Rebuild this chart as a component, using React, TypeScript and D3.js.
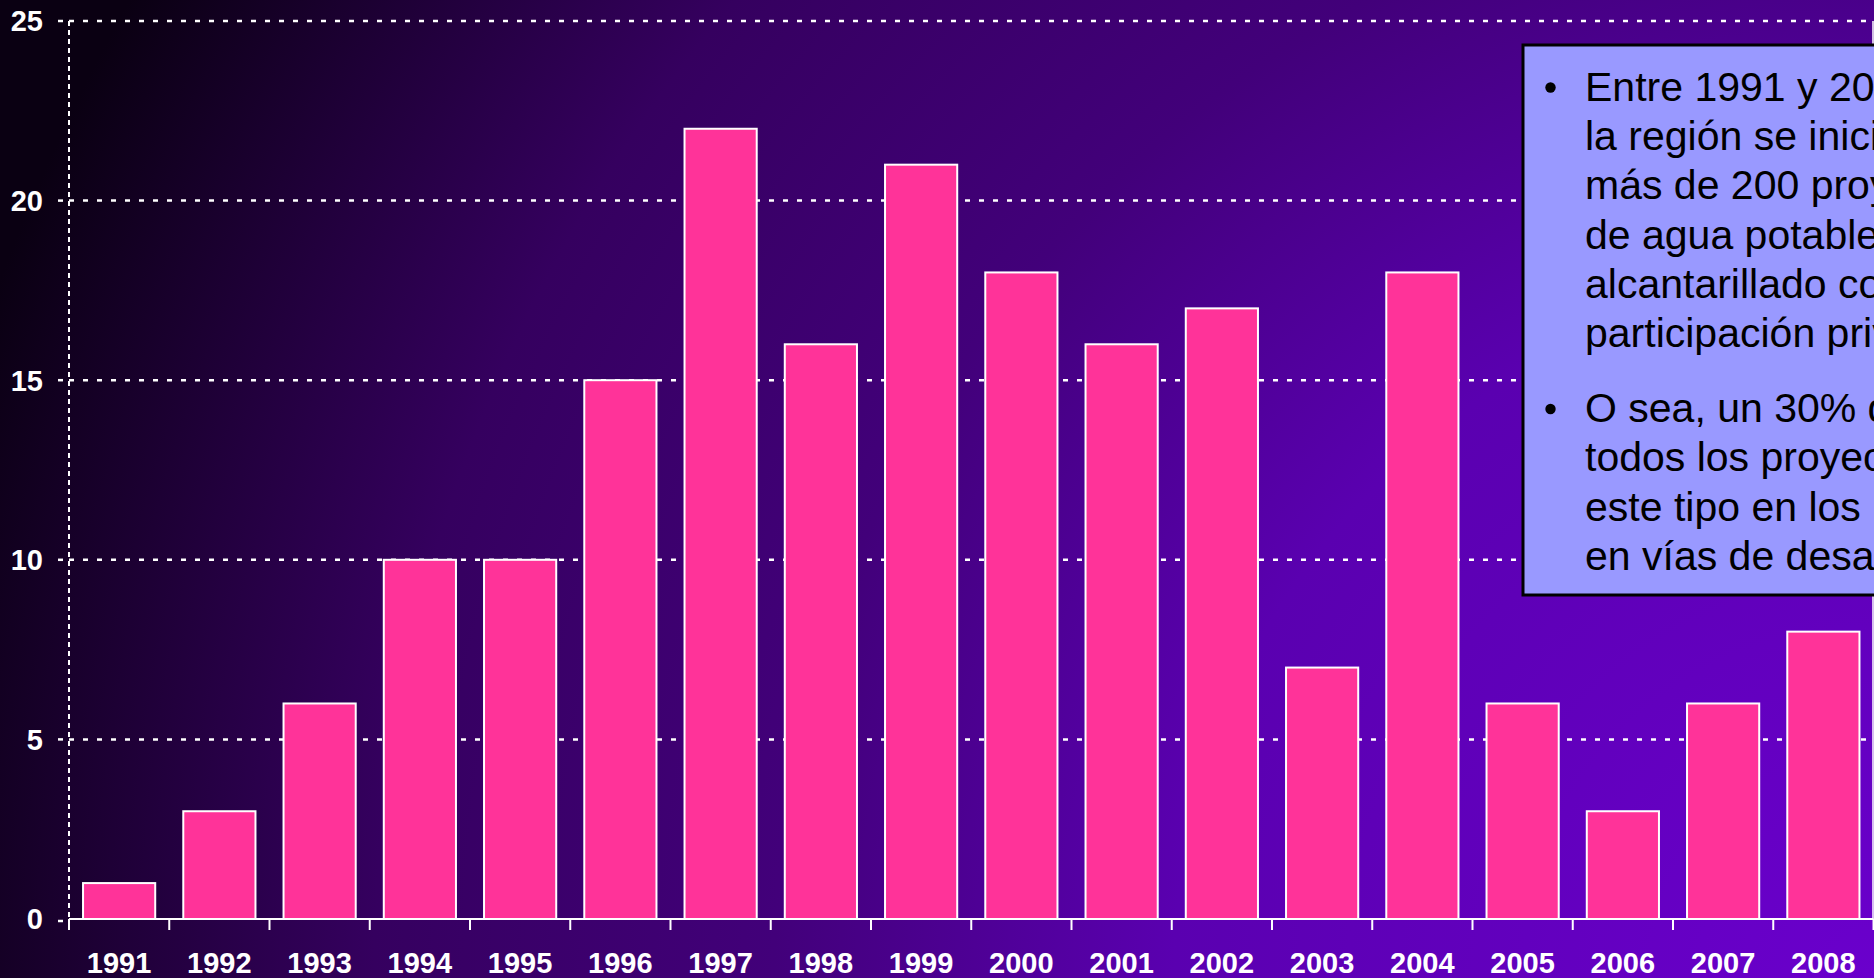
import React from "react";
import * as d3 from "d3";

const years = ["1991","1992","1993","1994","1995","1996","1997","1998","1999","2000","2001","2002","2003","2004","2005","2006","2007","2008"];
const projects = [1,3,6,10,10,15,22,16,21,18,16,17,7,18,6,3,6,8];
const yTicks = [0,5,10,15,20,25];
const bullet1 = ["Entre 1991 y 2008 en","la región se iniciaron","más de 200 proyectos","de agua potable y","alcantarillado con","participación privada."];
const bullet2 = ["O sea, un 30% de","todos los proyectos de","este tipo en los países","en vías de desarrollo."];

const W = 1874, H = 978;
const L = 69, R = 1873.5, T = 21, B = 919;
const FONT = "'Liberation Sans', Arial, Helvetica, sans-serif";

export default function App() {
  const x = d3.scaleBand<string>().domain(years).range([L, R]).paddingInner(0.28).paddingOuter(0.14);
  const y = d3.scaleLinear().domain([0, 25]).range([B, T]);
  const step = x.step();
  const bounds = d3.range(years.length + 1).map(i => L + i * step);

  return (
    <div style={{ position: "absolute", left: 0, top: 0, width: W, height: H, overflow: "hidden" }}>
      <svg width={W} height={H} style={{ display: "block" }}>
        <defs>
          <radialGradient id="bg" gradientUnits="userSpaceOnUse" cx={W} cy={H} r={2000}>
            <stop offset="0" stopColor="#6a00cc" />
            <stop offset="0.35" stopColor="#5a00b0" />
            <stop offset="0.55" stopColor="#42007a" />
            <stop offset="0.75" stopColor="#35005f" />
            <stop offset="1" stopColor="#0a0012" />
          </radialGradient>
          <clipPath id="boxclip">
            <rect x={1523} y={45} width={W - 1523} height={550} />
          </clipPath>
        </defs>
        <rect x={0} y={0} width={W} height={H} fill="url(#bg)" />

        {/* gridlines */}
        {yTicks.filter(t => t > 0).map(t => (
          <line key={"g" + t} x1={L} x2={R} y1={y(t)} y2={y(t)} stroke="#fff" strokeWidth={2.5} strokeDasharray="5,9" />
        ))}
        {/* left dashed axis */}
        <line x1={L} x2={L} y1={T} y2={B} stroke="#fff" strokeWidth={2} strokeDasharray="5,4" />
        {/* right border */}
        <line x1={R - 0.5} x2={R - 0.5} y1={T} y2={B} stroke="#fff" strokeWidth={1.5} />

        {/* y ticks and labels */}
        {yTicks.map(t => (
          <g key={"y" + t}>
            <line x1={58} x2={63} y1={y(t) + (t === 0 ? 2 : 0)} y2={y(t) + (t === 0 ? 2 : 0)} stroke="#fff" strokeWidth={2.5} />
            <text x={43} y={y(t)} dy="0.36em" textAnchor="end" fill="#fff" fontFamily={FONT} fontWeight="bold" fontSize={29}>{t}</text>
          </g>
        ))}

        {/* bars */}
        {years.map((yr, i) => (
          <rect key={yr} x={x(yr)} y={y(projects[i])} width={x.bandwidth()} height={B - y(projects[i])}
            fill="#ff3399" stroke="#fff" strokeWidth={2} />
        ))}

        {/* x axis */}
        <line x1={L} x2={R} y1={B} y2={B} stroke="#fff" strokeWidth={2} />
        {bounds.map((bx, i) => (
          <line key={"xt" + i} x1={bx} x2={bx} y1={B} y2={B + 11} stroke="#fff" strokeWidth={2} />
        ))}
        {years.map(yr => (
          <text key={"xl" + yr} x={(x(yr) as number) + x.bandwidth() / 2} y={973} textAnchor="middle"
            fill="#fff" fontFamily={FONT} fontWeight="bold" fontSize={29}>{yr}</text>
        ))}

        {/* text box */}
        <rect x={1523} y={45} width={420} height={550} fill="#9999ff" stroke="#000" strokeWidth={3} />
        <g clipPath="url(#boxclip)">
          {bullet1.map((s, i) => (
            <text key={"b1" + i} x={1585} y={101 + i * 49.2} fill="#000" fontFamily={FONT} fontSize={41}>{s}</text>
          ))}
          {bullet2.map((s, i) => (
            <text key={"b2" + i} x={1585} y={422 + i * 49.3} fill="#000" fontFamily={FONT} fontSize={41}>{s}</text>
          ))}
        </g>
        <circle cx={1550.5} cy={87.5} r={5.2} fill="#000" />
        <circle cx={1550.5} cy={409} r={5.2} fill="#000" />
      </svg>
    </div>
  );
}
